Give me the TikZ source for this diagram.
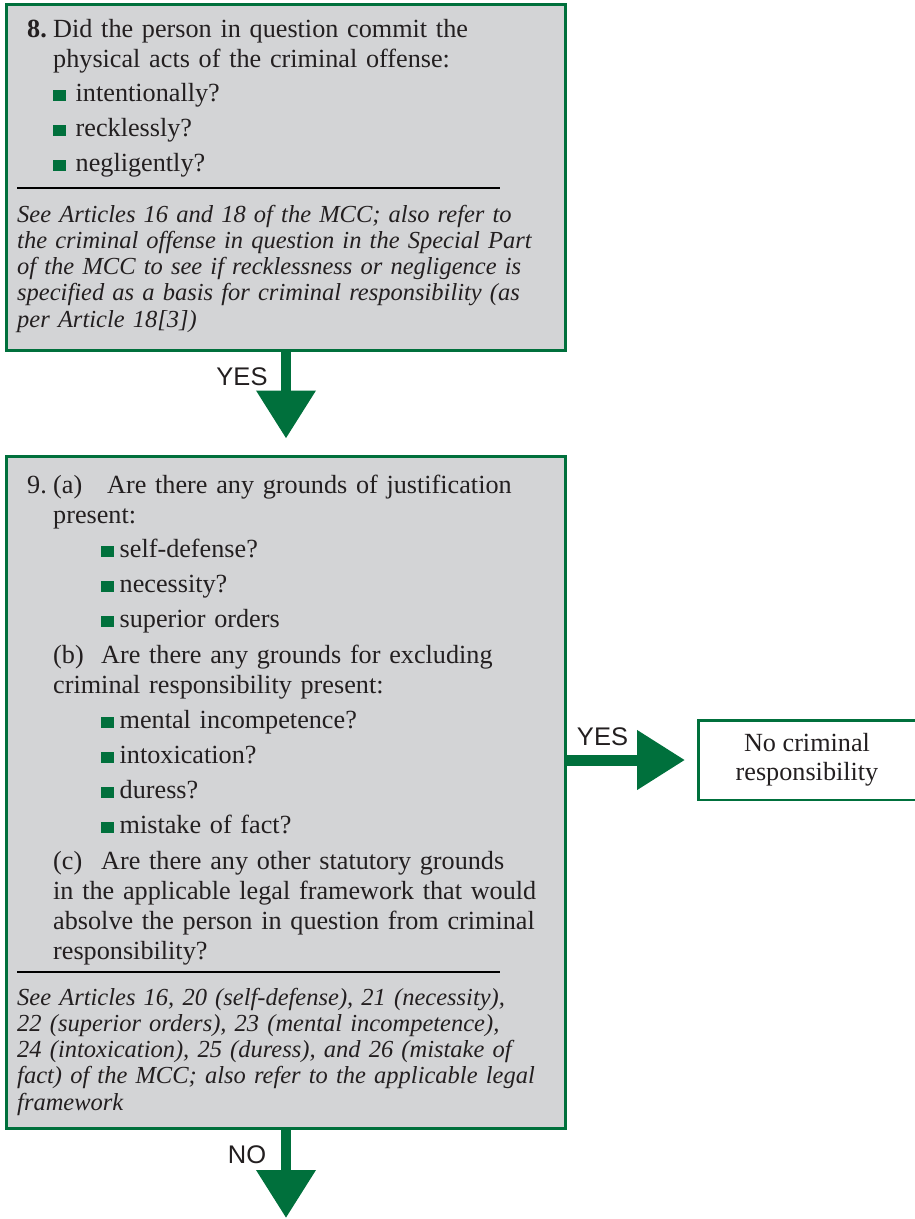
\documentclass[tikz,border=0pt]{standalone}
\usepackage{fontspec}
\setmainfont{Liberation Serif}
\setsansfont{Liberation Sans}
\usetikzlibrary{arrows.meta}
\definecolor{mccgreen}{HTML}{00703C}
\definecolor{mccgray}{HTML}{D3D4D6}
\definecolor{ink}{HTML}{231F20}
\newcommand{\bul}[1][6pt]{\textcolor{mccgreen}{\rule{12.5pt}{11pt}}\hspace{#1}}

\begin{document}
\begin{tikzpicture}[x=1pt,y=-1pt,
  qbox/.style={draw=mccgreen,line width=3pt,fill=mccgray,inner sep=0pt},
  txt/.style={anchor=base west,inner sep=0pt,text width=560pt,align=left,text=ink,font=\fontsize{26.2}{30}\selectfont},
  note/.style={txt,font=\fontsize{24.5}{26.3}\selectfont\itshape},
  lbl/.style={anchor=base,inner sep=0pt,text=ink,font=\fontsize{25.5}{30}\sffamily},
  garrow/.style={draw=mccgreen,line width=10.5pt,-{Triangle[width=57pt,length=48pt]}}]
\useasboundingbox(0,0)rectangle(915,1219);
% question 8
\node[qbox,minimum width=559pt,minimum height=346pt](q8)at(286,177.5){};
\node[txt,font=\fontsize{26.2}{30}\selectfont\bfseries](q8num)at(27,37){8.};
\node[txt](q8txt)at(53,37){Did the person in question commit the\\
physical acts of the criminal offense:\\[4pt]
\bul[10pt]intentionally?\\[5pt]
\bul[10pt]recklessly?\\[5pt]
\bul[10pt]negligently?};
\draw[line width=1.3pt](17,188)--(500,188);
\node[note](q8note)at(17,222){See Articles 16 and 18 of the MCC; also refer to\\
the criminal offense in question in the Special Part\\
of the MCC to see if recklessness or negligence is\\
specified as a basis for criminal responsibility (as\\
per Article 18[3])};
% question 9
\node[qbox,minimum width=559pt,minimum height=672pt](q9)at(286,792.5){};
\node[txt](q9num)at(27,493){9.};
\node[txt](q9txt)at(53,493){\makebox[54pt][l]{(a)}Are there any grounds of justification\\
present:\\[4pt]
\hspace*{48pt}\bul self-defense?\\[5pt]
\hspace*{48pt}\bul necessity?\\[5pt]
\hspace*{48pt}\bul superior orders\\[6pt]
\makebox[48pt][l]{(b)}Are there any grounds for excluding\\
criminal responsibility present:\\[5pt]
\hspace*{48pt}\bul mental incompetence?\\[5pt]
\hspace*{48pt}\bul intoxication?\\[5pt]
\hspace*{48pt}\bul duress?\\[5pt]
\hspace*{48pt}\bul mistake of fact?\\[6pt]
\makebox[48pt][l]{(c)}Are there any other statutory grounds\\
in the applicable legal framework that would\\
absolve the person in question from criminal\\
responsibility?};
\draw[line width=1.3pt](17,972)--(500,972);
\node[note](q9note)at(17,1005){See Articles 16, 20 (self-defense), 21 (necessity),\\
22 (superior orders), 23 (mental incompetence),\\
24 (intoxication), 25 (duress), and 26 (mistake of\\
fact) of the MCC; also refer to the applicable legal\\
framework};
% outcome
\node[draw=mccgreen,line width=2.5pt,fill=white,minimum width=217.5pt,minimum height=79.5pt,
  align=center,text=ink,font=\fontsize{26.2}{29}\selectfont](res)at(807,760){No criminal\\responsibility};
\coordinate(next)at(286,1218);
% connectors
\draw[garrow,shorten >=16.5pt](q8.south)--(q9.north);
\draw[garrow,line width=11pt,shorten >=12pt](q9.east|-res.west)--(res.west);
\draw[garrow](q9.south)--(next);
\node[lbl](yes1)at(242,385){YES};
\node[lbl](yes2)at(602.5,745){YES};
\node[lbl](no1)at(247,1163){NO};
\end{tikzpicture}
\end{document}
